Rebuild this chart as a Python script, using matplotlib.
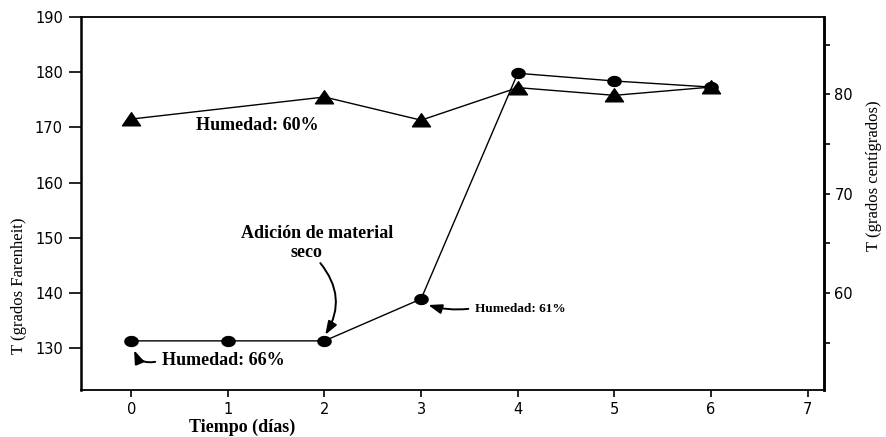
import matplotlib.pyplot as plt
from matplotlib.path import Path
import numpy as np

# Temperatura de la pila (°F) por día
dias_60 = [0, 2, 3, 4, 5, 6]
temp_60 = [171.5, 175.5, 171.3, 177.2, 175.8, 177.3]

dias_66 = [0, 1, 2, 3, 4, 5, 6]
temp_66 = [131.3, 131.3, 131.3, 138.9, 179.8, 178.4, 177.3]

ticks_f = [130, 140, 150, 160, 170, 180, 190]
ticks_c = [60, 70, 80]
ticks_c_menores = [55, 65, 75, 85]
ticks_x = [0, 1, 2, 3, 4, 5, 6, 7]

serif = ['Liberation Serif', 'DejaVu Serif']


def f_a_c(f):
    return (np.asarray(f) - 32) * 5 / 9


def c_a_f(c):
    return np.asarray(c) * 9 / 5 + 32


# marcadores algo achatados (elipse y triángulo ancho)
t = np.linspace(0, 2 * np.pi, 60)
elipse = Path(np.column_stack([np.cos(t), 0.75 * np.sin(t)]), closed=True)
triangulo = Path([(-1, -0.7), (1, -0.7), (0, 0.75), (-1, -0.7)], closed=True)

fig = plt.figure(figsize=(8.87, 4.37), dpi=100)
ax = fig.add_axes([0.0913, 0.1076, 0.8377, 0.8535])

ax.plot(dias_66, temp_66, color='black', lw=1.0, marker=elipse, ms=9.5,
        zorder=3)
ax.plot(dias_60, temp_60, color='black', lw=1.0, marker=triangulo, ms=13,
        zorder=4)

ax.set_xlim(-0.52, 7.17)
ax.set_ylim(122.4, 190)
ax.set_xticks(ticks_x)
ax.set_yticks(ticks_f)

for lado in ['left', 'right']:
    ax.spines[lado].set_linewidth(1.8)
for lado in ['top', 'bottom']:
    ax.spines[lado].set_linewidth(1.3)

ax.tick_params(axis='y', direction='out', length=9, width=1.2, labelsize=10.5, pad=4)
ax.tick_params(axis='x', direction='out', length=5, width=1.2, labelsize=10.5, pad=4)

sec = ax.secondary_yaxis('right', functions=(f_a_c, c_a_f))
sec.set_yticks(ticks_c)
sec.set_yticks(ticks_c_menores, minor=True)
sec.tick_params(which='both', direction='out', length=4.5, width=1.2,
                labelsize=10.5, pad=3)
sec.spines['right'].set_linewidth(1.8)
sec.set_ylabel('T (grados centígrados)', family=serif, fontsize=12, labelpad=9)
sec.yaxis.label.set_y(0.575)

ax.set_ylabel('T (grados Farenheit)', family=serif, fontsize=12)
ax.yaxis.set_label_coords(-0.073, 0.28)

xl = ax.set_xlabel('Tiempo (días)', family=serif, fontsize=13, weight='bold')
ax.xaxis.set_label_coords(0.217, -0.1)
xl.set_va('center')

# anotaciones
ax.text(0.673, 170.4, 'Humedad: 60%', family=serif, fontsize=13,
        weight='bold', ha='left', va='center')
ax.text(0.321, 127.8, 'Humedad: 66%', family=serif, fontsize=13,
        weight='bold', ha='left', va='center')
ax.text(3.561, 137.1, 'Humedad: 61%', family=serif, fontsize=9.5,
        weight='bold', ha='left', va='center')
ax.text(1.925, 150.8, 'Adición de material', family=serif, fontsize=13,
        weight='bold', ha='center', va='center')
ax.text(1.81, 147.4, 'seco', family=serif, fontsize=13,
        weight='bold', ha='center', va='center')

flecha = dict(arrowstyle='-|>,head_length=0.5,head_width=0.18', color='black',
              lw=1.4, shrinkA=0, shrinkB=0, mutation_scale=16)
ax.annotate('', xy=(2.008, 132.4), xytext=(1.957, 145.4),
            arrowprops=dict(flecha, connectionstyle='arc3,rad=-0.35'))
ax.annotate('', xy=(0.03, 129.6), xytext=(0.248, 127.5),
            arrowprops=dict(flecha, connectionstyle='arc3,rad=-0.4'))
ax.annotate('', xy=(3.075, 137.8), xytext=(3.489, 137.1),
            arrowprops=dict(flecha, connectionstyle='arc3,rad=-0.1'))

fig.savefig('out.png', dpi=100)
